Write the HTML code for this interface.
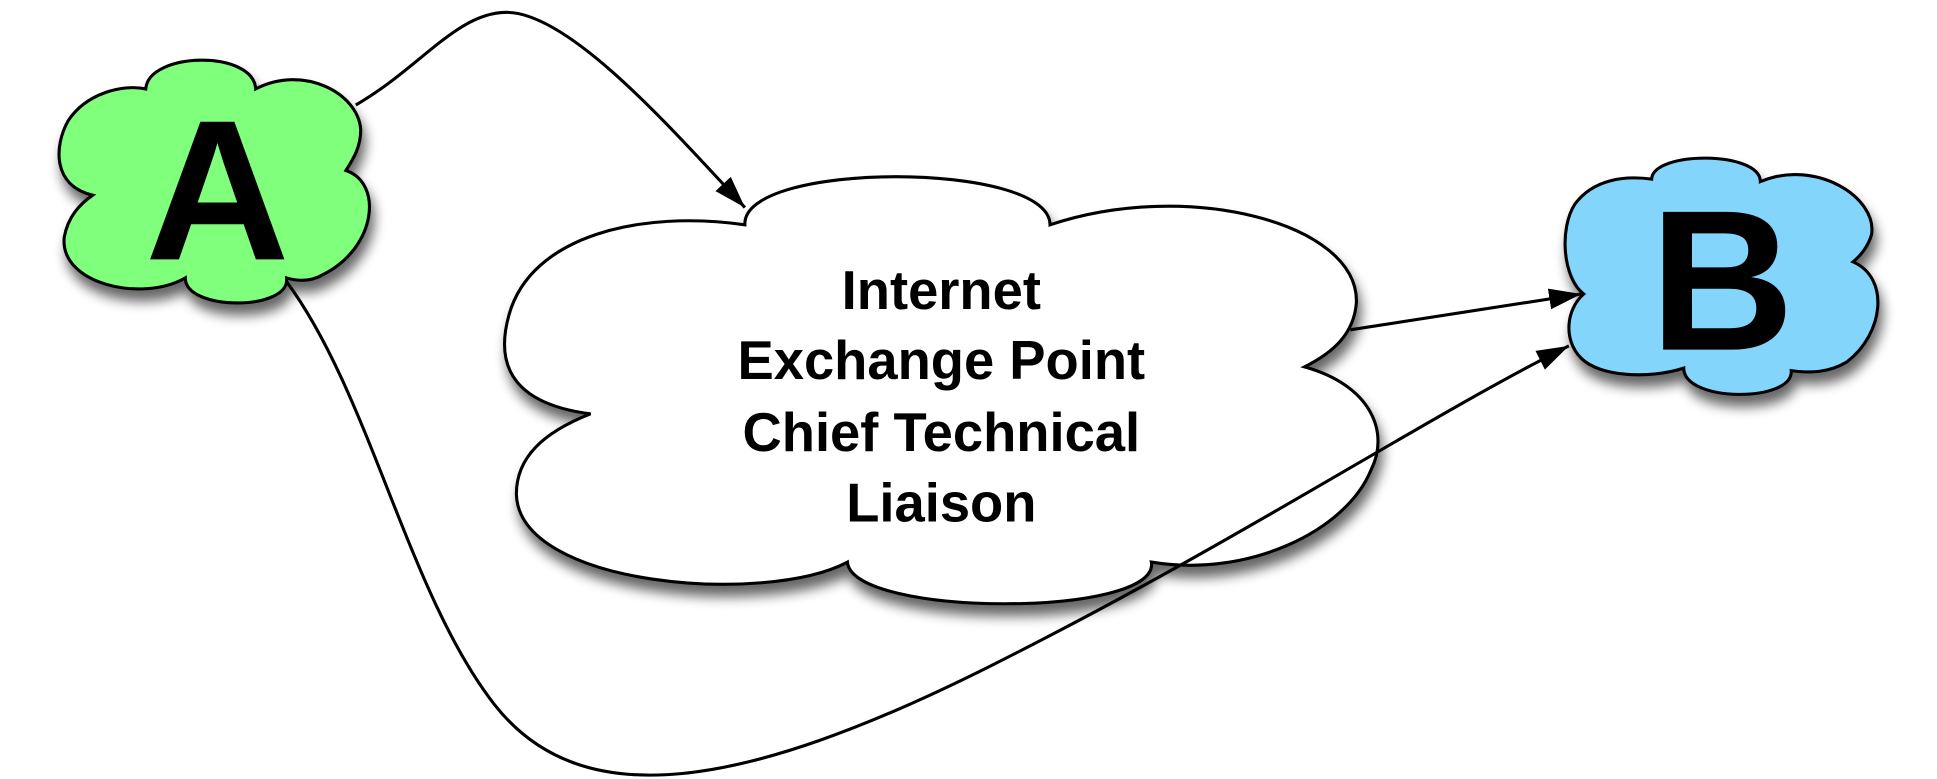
<!DOCTYPE html>
<html><head><meta charset="utf-8"><style>
html,body{margin:0;padding:0;background:#fff;}
svg{display:block;}
</style></head><body>
<svg width="1937" height="779" viewBox="0 0 1568 630.6" xmlns="http://www.w3.org/2000/svg">
<defs>
<filter id="sh" x="-20%" y="-20%" width="140%" height="150%">
<feGaussianBlur in="SourceAlpha" stdDeviation="5"/>
<feOffset dx="3" dy="9" result="b"/>
<feComponentTransfer><feFuncA type="linear" slope="0.6"/></feComponentTransfer>
<feMerge><feMergeNode/><feMergeNode in="SourceGraphic"/></feMerge>
</filter>
<marker id="ar" viewBox="0 0 10 10" refX="10" refY="5" markerWidth="26" markerHeight="17" markerUnits="userSpaceOnUse" orient="auto" preserveAspectRatio="none">
<path d="M0,0 L10,5 L0,10 z" fill="#000"/>
</marker>
</defs>
<g stroke="#000" stroke-width="2.5">
<path filter="url(#sh)" fill="#80ff7c" d="M118,72 C120,42 205,40 207,72 C245,52 290,75 292,105 C292,120 285,130 280,138 C310,148 305,200 262,222 C252,228 242,228 232,225 C235,252 150,252 150,225 C115,245 48,230 52,192 C55,175 65,165 75,158 C42,150 44,118 55,98 C70,75 100,68 118,72 Z"/>
<path filter="url(#sh)" fill="#84d5fc" d="M1337,145 C1338,122 1425,122 1425,147 C1470,128 1520,160 1515,190 C1512,200 1506,207 1500,212 C1530,225 1525,270 1495,293 C1480,302 1465,302 1450,300 C1452,326 1363,326 1363,298 C1335,307 1295,305 1280,290 C1265,275 1268,250 1282,238 C1265,225 1262,185 1275,165 C1290,145 1315,142 1337,145 Z"/>
<path filter="url(#sh)" fill="#fff" d="M603,182 C600,130 850,130 850,182 C960,145 1100,180 1098,245 C1096,270 1080,285 1056,297 C1110,312 1125,350 1110,380 C1090,430 1010,468 932,455 C940,500 690,500 686,455 C620,490 420,475 418,400 C418,370 440,350 478,335 C400,325 405,280 412,255 C430,190 520,170 603,182 Z"/>
</g>
<g fill="none" stroke="#000" stroke-width="2.5">
<path d="M288,85 C340,55 370,10 410,10 C460,10 540,100 603,168" marker-end="url(#ar)"/>
<path d="M1093,267 L1280,238" marker-end="url(#ar)"/>
<path d="M232,228 C300,320 330,480 400,570 C470,660 600,640 800,540 C1000,440 1150,340 1270,280" marker-end="url(#ar)"/>
</g>
<g font-family="Liberation Sans, sans-serif" font-weight="bold" text-anchor="middle" fill="#000">
<text x="176" y="210" font-size="162">A</text>
<text x="1394" y="283" font-size="162">B</text>
<text x="762" y="250" font-size="44">Internet</text>
<text x="762" y="307" font-size="44">Exchange Point</text>
<text x="762" y="365" font-size="44">Chief Technical</text>
<text x="762" y="422" font-size="44">Liaison</text>
</g>
</svg>
</body></html>
